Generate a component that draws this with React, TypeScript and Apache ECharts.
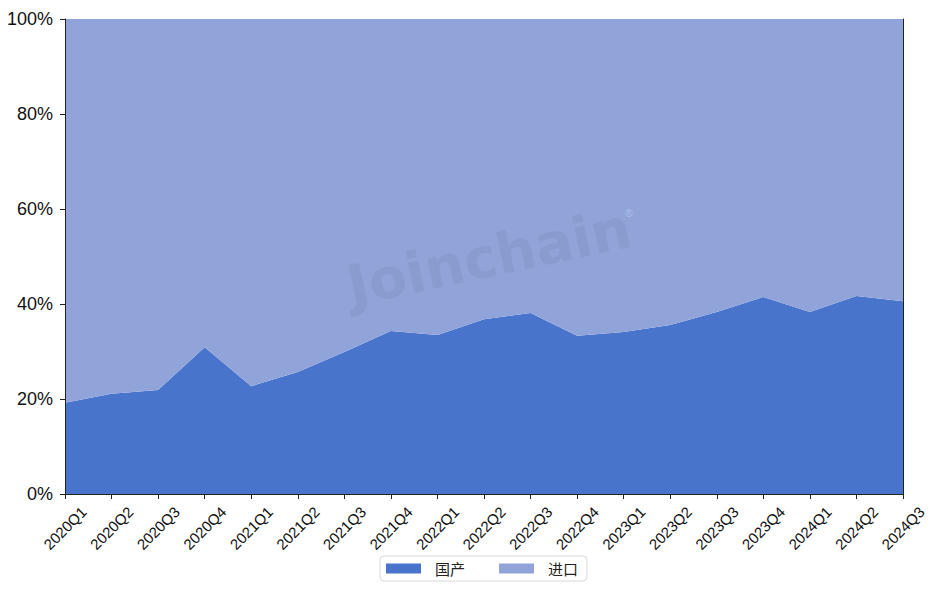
import React, { useEffect, useRef } from "react";
import * as echarts from "echarts";

const categories = [
  "2020Q1", "2020Q2", "2020Q3", "2020Q4",
  "2021Q1", "2021Q2", "2021Q3", "2021Q4",
  "2022Q1", "2022Q2", "2022Q3", "2022Q4",
  "2023Q1", "2023Q2", "2023Q3", "2023Q4",
  "2024Q1", "2024Q2", "2024Q3",
];

const domestic = [
  19.2, 21.1, 21.9, 30.9,
  22.7, 25.7, 29.9, 34.3,
  33.5, 36.8, 38.1, 33.3,
  34.1, 35.6, 38.3, 41.5,
  38.3, 41.7, 40.6,
];

const imported = domestic.map((v) => +(100 - v).toFixed(1));

const seriesNames = ["国产", "进口"];
const colors = ["#4874CB", "#91A4DA"];

export default function App() {
  const ref = useRef<HTMLDivElement>(null);
  useEffect(() => {
    document.body.style.margin = "0";
    const chart = echarts.init(ref.current!, null, { renderer: "svg" });
    const frameAxis = {
      axisLine: { show: true, lineStyle: { color: "#222", width: 1 } },
      axisTick: { show: false },
      axisLabel: { show: false },
      splitLine: { show: false },
    };
    chart.setOption({
      animation: false,
      textStyle: { fontFamily: "Liberation Sans, Arial, sans-serif" },
      grid: { left: 65, right: 39, top: 19, bottom: 100 },
      legend: {
        bottom: 13,
        left: 380,
        data: seriesNames,
        icon: "rect",
        itemWidth: 35,
        itemHeight: 10,
        itemGap: 34,
        padding: [5, 9, 5, 6],
        borderColor: "#d8d8d8",
        borderWidth: 1,
        borderRadius: 4,
        textStyle: {
          fontSize: 15,
          color: "#222",
          padding: [0, 0, 0, 9],
          fontFamily: "Noto Sans CJK SC, sans-serif",
        },
      },
      xAxis: [
        {
          type: "category",
          boundaryGap: false,
          data: categories,
          axisLine: { lineStyle: { color: "#222" } },
          axisTick: { alignWithLabel: true, length: 5, lineStyle: { color: "#222" } },
          axisLabel: {
            rotate: 45,
            fontSize: 15,
            color: "#111",
            interval: 0,
            margin: 34,
            align: "center",
            verticalAlign: "middle",
          },
          z: 10,
        },
        { type: "category", position: "top", boundaryGap: false, data: categories, ...frameAxis, z: 10 },
      ],
      yAxis: [
        {
          type: "value",
          min: 0,
          max: 100,
          interval: 20,
          axisLine: { show: true, lineStyle: { color: "#222" } },
          axisTick: { show: true, length: 5, lineStyle: { color: "#222" } },
          splitLine: { show: false },
          axisLabel: { formatter: "{value}%", fontSize: 18, color: "#111", margin: 12 },
          z: 10,
        },
        { type: "value", position: "right", min: 0, max: 100, ...frameAxis, z: 10 },
      ],
      series: [
        {
          name: seriesNames[0],
          type: "line",
          stack: "total",
          data: domestic,
          symbol: "none",
          lineStyle: { width: 0 },
          itemStyle: { color: colors[0] },
          areaStyle: { color: colors[0], opacity: 1 },
        },
        {
          name: seriesNames[1],
          type: "line",
          stack: "total",
          data: imported,
          symbol: "none",
          lineStyle: { width: 0 },
          itemStyle: { color: colors[1] },
          areaStyle: { color: colors[1], opacity: 1 },
        },
      ],
      graphic: [
        {
          type: "text",
          x: 489,
          y: 257,
          rotation: (12 * Math.PI) / 180,
          z: 100,
          style: {
            text: "Joinchain",
            fontSize: 56,
            fontWeight: "bold",
            fontFamily: "DejaVu Sans, sans-serif",
            fill: "rgba(90,100,150,0.13)",
            align: "center",
            verticalAlign: "middle",
          },
        },
        {
          type: "text",
          x: 629,
          y: 213,
          z: 100,
          style: {
            text: "®",
            fontSize: 10,
            fill: "rgba(255,255,255,0.3)",
            align: "center",
            verticalAlign: "middle",
          },
        },
      ],
    });
    return () => chart.dispose();
  }, []);
  return <div ref={ref} style={{ width: 942, height: 594 }} />;
}
